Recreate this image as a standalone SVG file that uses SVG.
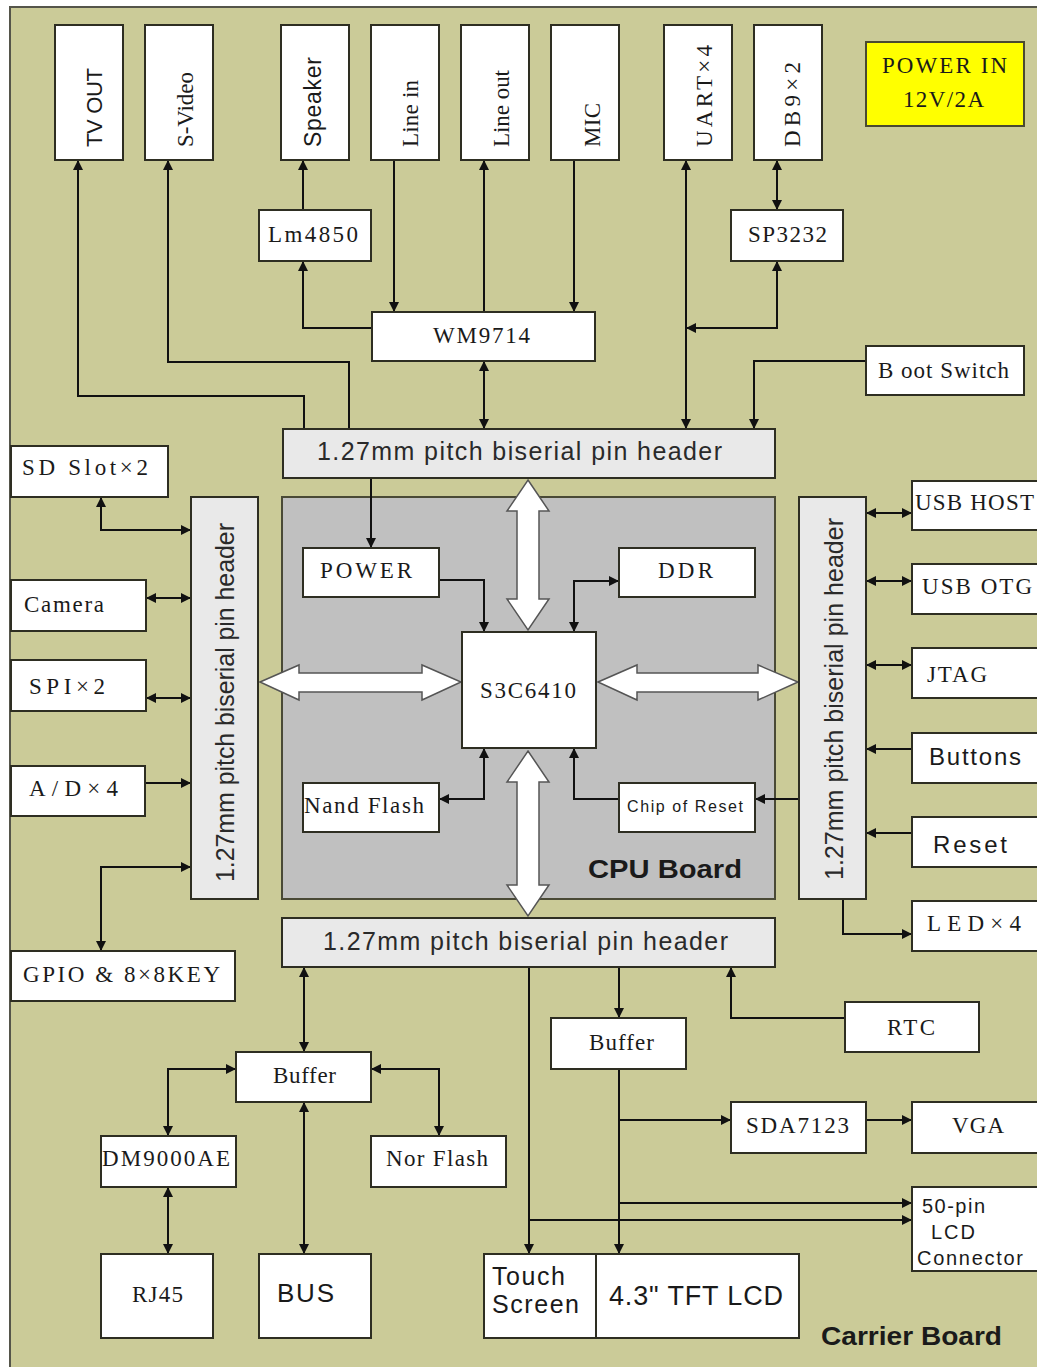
<svg xmlns="http://www.w3.org/2000/svg" width="1037" height="1367" viewBox="0 0 1037 1367">
<style>
.bx{fill:#fff;stroke:#2e2e22;stroke-width:2}
.hd{fill:#e9e9e9;stroke:#2e2e22;stroke-width:2}
.ln{fill:none;stroke:#111;stroke-width:2}
.blk{fill:#fff;stroke:#555;stroke-width:1.5;stroke-linejoin:miter}
.s{font-family:"Liberation Serif","Times New Roman",serif;font-size:23px;fill:#1a1a1a}
.a{font-family:"Liberation Sans",Arial,sans-serif;fill:#1a1a1a}
.h{font-family:"Liberation Sans",Arial,sans-serif;font-size:25px;fill:#2a2a2a}
.b{font-family:"Liberation Sans",Arial,sans-serif;font-weight:bold;fill:#1a1a1a}
</style>
<defs>
<marker id="ah" viewBox="0 0 10 10" refX="10" refY="5" markerWidth="11" markerHeight="10" markerUnits="userSpaceOnUse" orient="auto-start-reverse">
<path d="M0,0 L10,5 L0,10 z" fill="#111"/>
</marker>
</defs>
<rect width="1037" height="1367" fill="#fff"/>
<g id="carrier-board">
<rect x="10" y="7" width="1040" height="1370" fill="#cbcb98" stroke="#55554a" stroke-width="2"/>
<text class="b" x="821" y="1345" font-size="25" textLength="181" lengthAdjust="spacingAndGlyphs">Carrier Board</text>
</g>
<g id="cpu-board">
<rect x="282" y="497" width="493" height="402" fill="#c0c0c0" stroke="#4a4a36" stroke-width="2"/>
<text class="b" x="588" y="878" font-size="26" textLength="154" lengthAdjust="spacingAndGlyphs">CPU Board</text>
</g>

<g id="connectors">
<path class="ln" d="M304,429 V396 H78 V160" marker-end="url(#ah)"/>
<path class="ln" d="M349,429 V362 H168 V160" marker-end="url(#ah)"/>
<path class="ln" d="M303,210 V160" marker-end="url(#ah)"/>
<path class="ln" d="M372,328 H303 V261" marker-end="url(#ah)"/>
<path class="ln" d="M394,160 V312" marker-end="url(#ah)"/>
<path class="ln" d="M484,312 V160" marker-end="url(#ah)"/>
<path class="ln" d="M574,160 V312" marker-end="url(#ah)"/>
<path class="ln" d="M484,361 V429" marker-start="url(#ah)" marker-end="url(#ah)"/>
<path class="ln" d="M686,160 V429" marker-start="url(#ah)" marker-end="url(#ah)"/>
<path class="ln" d="M777,160 V210" marker-start="url(#ah)" marker-end="url(#ah)"/>
<path class="ln" d="M777,261 V328 H686" marker-start="url(#ah)" marker-end="url(#ah)"/>
<path class="ln" d="M866,361 H754 V429" marker-end="url(#ah)"/>
<path class="ln" d="M371,478 V548" marker-end="url(#ah)"/>
<path class="ln" d="M439,580 H484 V632" marker-end="url(#ah)"/>
<path class="ln" d="M574,632 V581 H619" marker-start="url(#ah)" marker-end="url(#ah)"/>
<path class="ln" d="M484,748 V799 H439" marker-start="url(#ah)" marker-end="url(#ah)"/>
<path class="ln" d="M619,799 H574 V748" marker-end="url(#ah)"/>
<path class="ln" d="M799,799 H755" marker-end="url(#ah)"/>
<path class="ln" d="M101,497 V530 H191" marker-start="url(#ah)" marker-end="url(#ah)"/>
<path class="ln" d="M146,598 H191" marker-start="url(#ah)" marker-end="url(#ah)"/>
<path class="ln" d="M146,698 H191" marker-start="url(#ah)" marker-end="url(#ah)"/>
<path class="ln" d="M145,783 H191" marker-end="url(#ah)"/>
<path class="ln" d="M191,867 H101 V951" marker-start="url(#ah)" marker-end="url(#ah)"/>
<path class="ln" d="M866,513 H912" marker-start="url(#ah)" marker-end="url(#ah)"/>
<path class="ln" d="M866,581 H912" marker-start="url(#ah)" marker-end="url(#ah)"/>
<path class="ln" d="M866,665 H912" marker-start="url(#ah)" marker-end="url(#ah)"/>
<path class="ln" d="M912,749 H866" marker-end="url(#ah)"/>
<path class="ln" d="M912,833 H866" marker-end="url(#ah)"/>
<path class="ln" d="M843,899 V934 H912" marker-end="url(#ah)"/>
<path class="ln" d="M304,967 V1052" marker-start="url(#ah)" marker-end="url(#ah)"/>
<path class="ln" d="M236,1069 H168 V1136" marker-start="url(#ah)" marker-end="url(#ah)"/>
<path class="ln" d="M371,1069 H439 V1136" marker-start="url(#ah)" marker-end="url(#ah)"/>
<path class="ln" d="M168,1187 V1254" marker-start="url(#ah)" marker-end="url(#ah)"/>
<path class="ln" d="M304,1102 V1254" marker-start="url(#ah)" marker-end="url(#ah)"/>
<path class="ln" d="M619,967 V1018" marker-end="url(#ah)"/>
<path class="ln" d="M529,967 V1254" marker-end="url(#ah)"/>
<path class="ln" d="M845,1018 H731 V967" marker-end="url(#ah)"/>
<path class="ln" d="M619,1069 V1254" marker-end="url(#ah)"/>
<path class="ln" d="M619,1120 H731" marker-end="url(#ah)"/>
<path class="ln" d="M866,1120 H912" marker-end="url(#ah)"/>
<path class="ln" d="M619,1203 H912" marker-end="url(#ah)"/>
<path class="ln" d="M529,1220 H912" marker-end="url(#ah)"/>
<polygon class="blk" points="528,480 549,511 539,511 539,599 549,599 528,630 507,599 517,599 517,511 507,511"/>
<polygon class="blk" points="528,751 549,782 539,782 539,885 549,885 528,916 507,885 517,885 517,782 507,782"/>
<polygon class="blk" points="260,682 299,665 299,673 422,673 422,665 461,682 422,700 422,692 299,692 299,700"/>
<polygon class="blk" points="598,682 637,665 637,673 758,673 758,665 798,682 758,700 758,692 637,692 637,700"/>
</g>

<g id="tv-out"><rect class="bx" x="55" y="25" width="68" height="135"/><text class="a" font-size="22" x="102" y="147" transform="rotate(-90 102 147)" textLength="79">TV OUT</text></g>
<g id="s-video"><rect class="bx" x="145" y="25" width="68" height="135"/><text class="s" x="193" y="147" transform="rotate(-90 193 147)" textLength="75">S-Video</text></g>
<g id="speaker"><rect class="bx" x="281" y="25" width="68" height="135"/><text class="a" font-size="23" x="321" y="147" transform="rotate(-90 321 147)" textLength="90">Speaker</text></g>
<g id="line-in"><rect class="bx" x="371" y="25" width="68" height="135"/><text class="s" x="418" y="147" transform="rotate(-90 418 147)" textLength="67">Line in</text></g>
<g id="line-out"><rect class="bx" x="461" y="25" width="68" height="135"/><text class="s" x="509" y="147" transform="rotate(-90 509 147)" textLength="77">Line out</text></g>
<g id="mic"><rect class="bx" x="551" y="25" width="68" height="135"/><text class="s" x="600" y="147" transform="rotate(-90 600 147)" textLength="44">MIC</text></g>
<g id="uart"><rect class="bx" x="664" y="25" width="68" height="135"/><text class="s" x="712" y="147" transform="rotate(-90 712 147)" textLength="102">UART×4</text></g>
<g id="db9"><rect class="bx" x="754" y="25" width="68" height="135"/><text class="s" x="800" y="147" transform="rotate(-90 800 147)" textLength="85">DB9×2</text></g>
<g id="power-in"><rect x="866" y="42" width="158" height="84" fill="#ffff00" stroke="#4a4a30" stroke-width="2"/><text class="s" x="882" y="73" textLength="125">POWER IN</text><text class="s" x="903" y="107" textLength="81">12V/2A</text></g>
<g id="lm4850"><rect class="bx" x="259" y="210" width="112" height="51"/><text class="s" x="268" y="242" textLength="90">Lm4850</text></g>
<g id="sp3232"><rect class="bx" x="731" y="210" width="112" height="51"/><text class="s" x="748" y="242" textLength="79">SP3232</text></g>
<g id="wm9714"><rect class="bx" x="372" y="312" width="223" height="49"/><text class="s" x="433" y="343" textLength="97">WM9714</text></g>
<g id="boot-switch"><rect class="bx" x="866" y="346" width="158" height="49"/><text class="s" x="878" y="378" textLength="131">B oot Switch</text></g>
<g id="header-top"><rect class="hd" x="283" y="429" width="492" height="49"/><text class="h" x="317" y="460" textLength="405">1.27mm pitch biserial pin header</text></g>
<g id="header-bottom"><rect class="hd" x="282" y="918" width="493" height="49"/><text class="h" x="323" y="950" textLength="405">1.27mm pitch biserial pin header</text></g>
<g id="header-left"><rect class="hd" x="191" y="497" width="67" height="402"/><text class="h" x="234" y="882" transform="rotate(-90 234 882)" textLength="359">1.27mm pitch biserial pin header</text></g>
<g id="header-right"><rect class="hd" x="799" y="497" width="67" height="402"/><text class="h" x="843" y="880" transform="rotate(-90 843 880)" textLength="362">1.27mm pitch biserial pin header</text></g>
<g id="sd-slot"><rect class="bx" x="11" y="446" width="157" height="51"/><text class="s" x="22" y="475" textLength="126">SD Slot×2</text></g>
<g id="camera"><rect class="bx" x="11" y="580" width="135" height="51"/><text class="s" x="24" y="612" textLength="80">Camera</text></g>
<g id="spi"><rect class="bx" x="11" y="660" width="135" height="51"/><text class="s" x="29" y="694" textLength="76">SPI×2</text></g>
<g id="ad"><rect class="bx" x="11" y="766" width="134" height="50"/><text class="s" x="29" y="796" textLength="89">A/D×4</text></g>
<g id="gpio"><rect class="bx" x="11" y="951" width="224" height="50"/><text class="s" x="23" y="982" textLength="197">GPIO &amp; 8×8KEY</text></g>
<g id="power"><rect class="bx" x="303" y="548" width="136" height="49"/><text class="s" x="320" y="578" textLength="92">POWER</text></g>
<g id="ddr"><rect class="bx" x="619" y="548" width="136" height="49"/><text class="s" x="658" y="578" textLength="55">DDR</text></g>
<g id="s3c6410"><rect class="bx" x="462" y="632" width="134" height="116"/><text class="s" x="480" y="698" textLength="96">S3C6410</text></g>
<g id="nand-flash"><rect class="bx" x="303" y="783" width="136" height="49"/><text class="s" x="304" y="813" textLength="120">Nand Flash</text></g>
<g id="chip-of-reset"><rect class="bx" x="619" y="783" width="136" height="49"/><text class="a" font-size="16" x="627" y="812" textLength="116">Chip of Reset</text></g>
<g id="usb-host"><rect class="bx" x="912" y="481" width="140" height="49"/><text class="s" x="915" y="510" textLength="119">USB HOST</text></g>
<g id="usb-otg"><rect class="bx" x="912" y="564" width="140" height="50"/><text class="s" x="922" y="594" textLength="110">USB OTG</text></g>
<g id="jtag"><rect class="bx" x="912" y="648" width="140" height="50"/><text class="s" x="927" y="682" textLength="60">JTAG</text></g>
<g id="buttons"><rect class="bx" x="912" y="733" width="140" height="50"/><text class="a" font-size="24" x="929" y="765" textLength="92">Buttons</text></g>
<g id="reset"><rect class="bx" x="912" y="817" width="140" height="50"/><text class="a" font-size="24" x="933" y="853" textLength="74">Reset</text></g>
<g id="led"><rect class="bx" x="912" y="901" width="140" height="50"/><text class="s" x="927" y="931" textLength="94">LED×4</text></g>
<g id="buffer-left"><rect class="bx" x="236" y="1052" width="135" height="50"/><text class="s" x="273" y="1083" textLength="63">Buffer</text></g>
<g id="dm9000ae"><rect class="bx" x="101" y="1136" width="135" height="51"/><text class="s" x="102" y="1166" textLength="128">DM9000AE</text></g>
<g id="nor-flash"><rect class="bx" x="371" y="1136" width="135" height="51"/><text class="s" x="386" y="1166" textLength="102">Nor Flash</text></g>
<g id="rj45"><rect class="bx" x="101" y="1254" width="112" height="84"/><text class="s" x="132" y="1302" textLength="51">RJ45</text></g>
<g id="bus"><rect class="bx" x="259" y="1254" width="112" height="84"/><text class="a" font-size="26" x="277" y="1302" textLength="57">BUS</text></g>
<g id="buffer-right"><rect class="bx" x="551" y="1018" width="135" height="51"/><text class="s" x="589" y="1050" textLength="65">Buffer</text></g>
<g id="rtc"><rect class="bx" x="845" y="1002" width="134" height="50"/><text class="s" x="887" y="1035" textLength="48">RTC</text></g>
<g id="sda7123"><rect class="bx" x="731" y="1102" width="135" height="51"/><text class="s" x="746" y="1133" textLength="103">SDA7123</text></g>
<g id="vga"><rect class="bx" x="912" y="1102" width="140" height="51"/><text class="s" x="952" y="1133" textLength="52">VGA</text></g>
<g id="lcd-connector"><rect class="bx" x="912" y="1187" width="140" height="84"/><text class="a" font-size="20" x="922" y="1213" textLength="63">50-pin</text><text class="a" font-size="20" x="931" y="1239" textLength="44">LCD</text><text class="a" font-size="20" x="917" y="1265" textLength="106">Connector</text></g>
<g id="touch-screen"><rect class="bx" x="484" y="1254" width="112" height="84"/><text class="a" font-size="25" x="492" y="1285" textLength="73">Touch</text><text class="a" font-size="25" x="492" y="1313" textLength="87">Screen</text></g>
<g id="tft-lcd"><rect class="bx" x="596" y="1254" width="203" height="84"/><text class="a" font-size="27" x="609" y="1305" textLength="174">4.3" TFT LCD</text></g>
</svg>
